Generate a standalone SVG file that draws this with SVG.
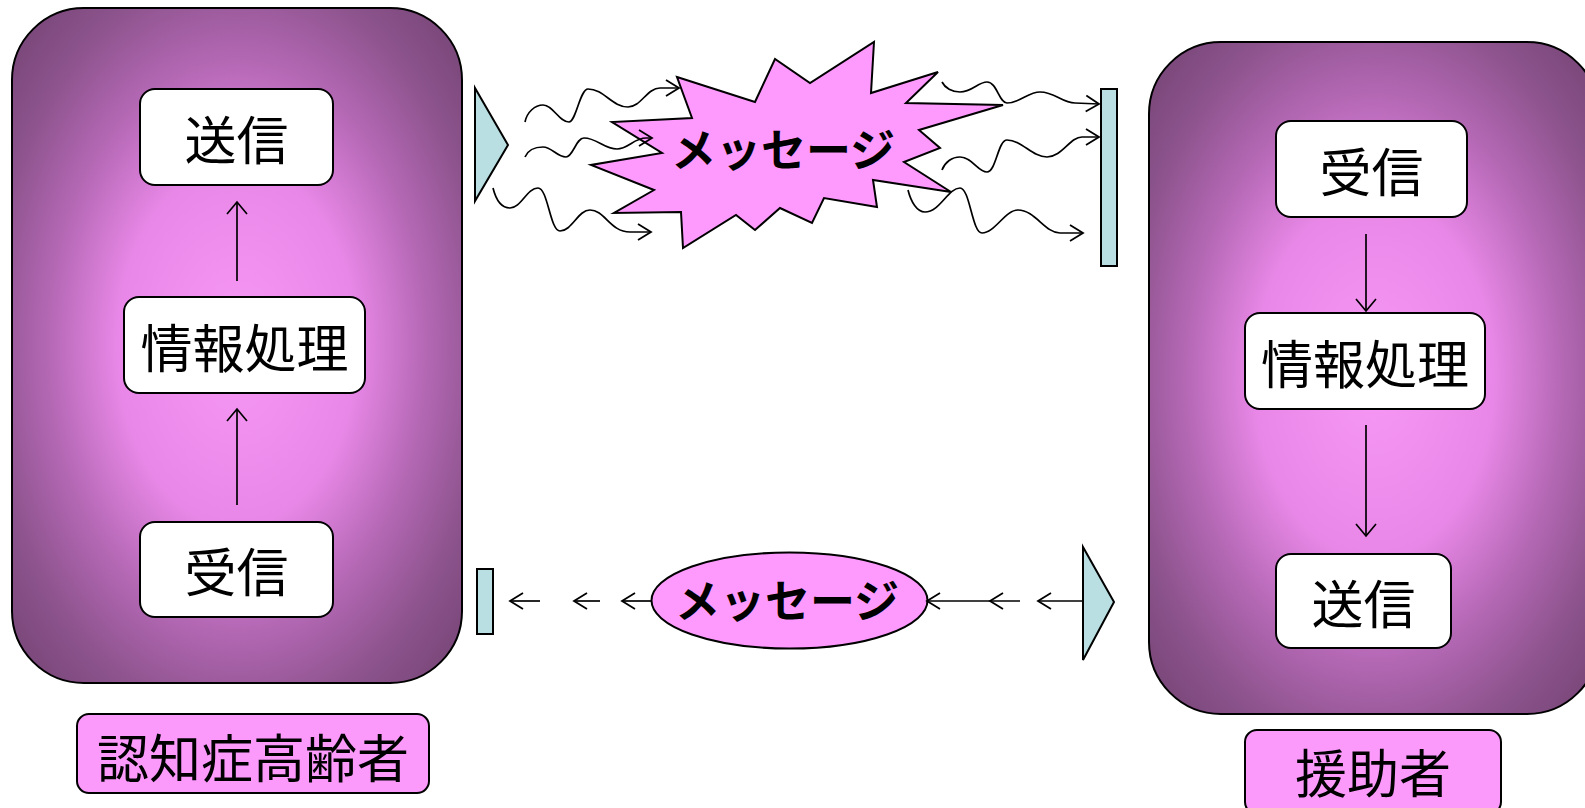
<svg xmlns="http://www.w3.org/2000/svg" width="1585" height="808" viewBox="0 0 1585 808">
<defs>
<radialGradient id="bg" cx="50%" cy="50%" r="70%">
<stop offset="0" stop-color="#f898f6"/>
<stop offset="0.38" stop-color="#e887e7"/>
<stop offset="0.6" stop-color="#b468b4"/>
<stop offset="0.8" stop-color="#8c538c"/>
<stop offset="1" stop-color="#744474"/>
</radialGradient>
<marker id="ah" viewBox="-15 -10 17 20" refX="0" refY="0" markerWidth="17" markerHeight="20" markerUnits="userSpaceOnUse" orient="auto">
<path d="M-13,-8 L0,0 L-13,8" fill="none" stroke="#000" stroke-width="1.8"/>
</marker>
<marker id="ahv" viewBox="-15 -12 17 24" refX="0" refY="0" markerWidth="17" markerHeight="24" markerUnits="userSpaceOnUse" orient="auto">
<path d="M-12,-10 L0,0 L-12,10" fill="none" stroke="#000" stroke-width="1.7"/>
</marker>
</defs>
<style>
.big{fill:url(#bg);stroke:#000;stroke-width:2}
.box{fill:#fff;stroke:#000;stroke-width:2}
.lbl{fill:#fc9afc;stroke:#000;stroke-width:2}
.pk{fill:#fe9afe;stroke:#000;stroke-width:2}
.cy{fill:#b9dfe2;stroke:#000;stroke-width:2}
.t{font-family:"Noto Sans CJK JP","Noto Sans CJK SC",sans-serif;text-anchor:middle;dominant-baseline:central;fill:#000}
.t52{font-size:52px}
.t45{font-size:45px;font-weight:bold}
.w{fill:none;stroke:#000;stroke-width:1.7;marker-end:url(#ah)}
.v{fill:none;stroke:#000;stroke-width:1.7;marker-end:url(#ahv)}
</style>

<g id="elderly">
<rect class="big" x="12" y="8" width="450" height="675" rx="72" ry="72"/>
</g>
<g id="elderly-send">
<rect class="box" x="140" y="89" width="193" height="96" rx="15"/>
<text class="t t52" x="236.5" y="137">送信</text>
</g>
<g id="elderly-process">
<rect class="box" x="124" y="297" width="241" height="96" rx="15"/>
<text class="t t52" x="244.5" y="345">情報処理</text>
</g>
<g id="elderly-receive">
<rect class="box" x="140" y="522" width="193" height="95" rx="15"/>
<text class="t t52" x="236.5" y="569.5">受信</text>
</g>
<g id="elderly-label">
<rect class="lbl" x="77" y="714" width="352" height="79" rx="12"/>
<text class="t t52" x="253" y="755">認知症高齢者</text>
</g>

<g id="helper">
<rect class="big" x="1149" y="42" width="450" height="672" rx="72" ry="72"/>
</g>
<g id="helper-receive">
<rect class="box" x="1276" y="121" width="191" height="96" rx="15"/>
<text class="t t52" x="1371.5" y="169">受信</text>
</g>
<g id="helper-process">
<rect class="box" x="1245" y="313" width="240" height="96" rx="15"/>
<text class="t t52" x="1365" y="361">情報処理</text>
</g>
<g id="helper-send">
<rect class="box" x="1276" y="554" width="175" height="94" rx="15"/>
<text class="t t52" x="1363.5" y="601">送信</text>
</g>
<g id="helper-label">
<rect class="lbl" x="1245" y="730" width="256" height="84" rx="12"/>
<text class="t t52" x="1373" y="770">援助者</text>
</g>

<g id="sender-top">
<polygon class="cy" points="475,88 508,145 475,201"/>
</g>
<g id="receiver-top">
<rect class="cy" x="1101" y="89" width="16" height="177"/>
</g>
<g id="message-burst">
<polygon class="pk" points="677,77 755,102 775,59 810,83 874,42 871,93 938,72 906,103 1003,105 919,130 940,148 904,162 951,192 873,180 877,207 824,198 812,223 780,208 755,230 736,215 683,248 681,212 614,213 654,190 591,165 662,153 612,122 692,118"/>
</g>

<g id="receiver-bottom">
<rect class="cy" x="477" y="569" width="16" height="65"/>
</g>
<g id="sender-bottom">
<polygon class="cy" points="1083,547 1114,602 1083,660"/>
</g>
<g id="message-ellipse">
<ellipse class="pk" cx="789.5" cy="600.5" rx="138" ry="48"/>
<text class="t t45" x="787" y="598">メッセージ</text>
</g>

<g id="connectors">
<line class="v" x1="237" y1="281" x2="237" y2="202"/>
<line class="v" x1="237" y1="505" x2="237" y2="409"/>
<line class="v" x1="1366" y1="234" x2="1366" y2="311"/>
<line class="v" x1="1366" y1="425" x2="1366" y2="536"/>
<path class="w" d="M525,122 C527,112 535,105 543,105 C553,105 559,122 569,122 C576,122 580,89 588,89 C604,89 612,107 628,107 C641,107 647,88 660,88 L679,88"/>
<path class="w" d="M525,157 C528,150 535,147 543,147 C552,147 557,157 566,157 C573,157 576,138 584,138 C597,138 604,149 617,149 C628,149 634,138 646,138 L652,138"/>
<path class="w" d="M493,188 C496,200 502,208 510,208 C521,208 527,188 538,188 C548,188 550,231 560,231 C572,231 578,210 590,210 C605,210 610,232 630,232 L651,232"/>
<path class="w" d="M942,82 C945,88 952,92 960,92 C972,92 978,82 987,82 C997,82 999,103 1007,103 C1020,103 1028,92 1040,92 C1055,92 1062,103 1075,103 L1099,104"/>
<path class="w" d="M942,170 C945,162 952,157 960,157 C972,157 978,172 987,172 C996,172 998,140 1007,140 C1022,140 1032,157 1047,157 C1062,157 1070,137 1082,137 L1099,137"/>
<path class="w" d="M908,190 C911,202 917,212 925,212 C940,212 948,188 960,188 C970,188 972,233 982,233 C995,233 1005,210 1018,210 C1035,210 1045,233 1060,233 L1083,233"/>
<line class="w" x1="540" y1="601" x2="510" y2="601"/>
<line class="w" x1="600" y1="601" x2="574" y2="601"/>
<line class="w" x1="652" y1="601" x2="622" y2="601"/>
<path class="w" style="marker-mid:url(#ah)" d="M1020,601 L990,601 L927,601"/>
<line class="w" x1="1083" y1="601" x2="1038" y2="601"/>
</g>
<g id="burst-label">
<text class="t t45" x="783" y="147">メッセージ</text>
</g>
</svg>
